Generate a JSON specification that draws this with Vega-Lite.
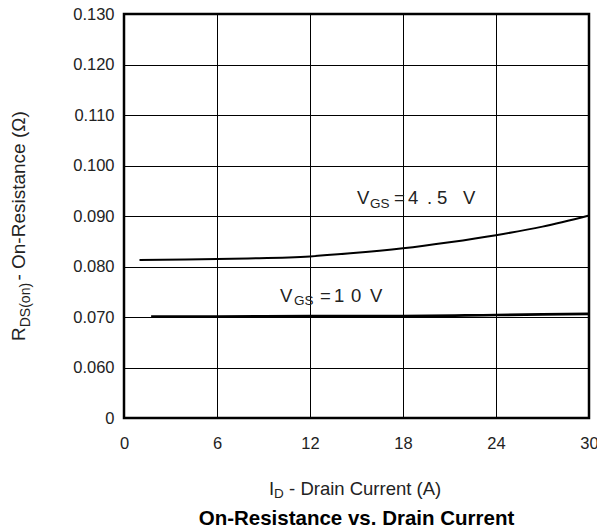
{
  "$schema": "https://vega.github.io/schema/vega-lite/v6.json",
  "autosize": "none",
  "padding": {"left": 124, "top": 14, "right": 8, "bottom": 111},
  "width": 465,
  "height": 404,
  "background": "white",
  "config": {
    "font": "Liberation Sans",
    "view": {"stroke": "black", "strokeWidth": 2.5}
  },
  "datasets": {
    "curves": [
      {"I": 1.0, "R": 0.0813, "series": "4.5 V"},
      {"I": 4.0, "R": 0.0814, "series": "4.5 V"},
      {"I": 8.0, "R": 0.0816, "series": "4.5 V"},
      {"I": 12.0, "R": 0.0820, "series": "4.5 V"},
      {"I": 14.6, "R": 0.0826, "series": "4.5 V"},
      {"I": 18.0, "R": 0.0836, "series": "4.5 V"},
      {"I": 21.0, "R": 0.0848, "series": "4.5 V"},
      {"I": 24.0, "R": 0.0862, "series": "4.5 V"},
      {"I": 27.0, "R": 0.0879, "series": "4.5 V"},
      {"I": 30.0, "R": 0.0901, "series": "4.5 V"},
      {"I": 1.75, "R": 0.0701, "series": "10 V"},
      {"I": 6.0, "R": 0.0701, "series": "10 V"},
      {"I": 12.0, "R": 0.0702, "series": "10 V"},
      {"I": 18.0, "R": 0.0702, "series": "10 V"},
      {"I": 24.0, "R": 0.0704, "series": "10 V"},
      {"I": 30.0, "R": 0.0706, "series": "10 V"}
    ],
    "notes": [
      {"x": 15.03, "y": 0.09228, "text": "V", "role": "main"},
      {"x": 15.87, "y": 0.09158, "text": "GS", "role": "sub"},
      {"x": 17.42, "y": 0.09228, "text": "=", "role": "main"},
      {"x": 18.32, "y": 0.09228, "text": "4", "role": "main"},
      {"x": 19.55, "y": 0.09228, "text": ".", "role": "main"},
      {"x": 20.19, "y": 0.09228, "text": "5", "role": "main"},
      {"x": 21.87, "y": 0.09228, "text": "V", "role": "main"},
      {"x": 10.06, "y": 0.07303, "text": "V", "role": "main"},
      {"x": 10.97, "y": 0.07238, "text": "GS", "role": "sub"},
      {"x": 12.65, "y": 0.07303, "text": "=", "role": "main"},
      {"x": 13.55, "y": 0.07303, "text": "1", "role": "main"},
      {"x": 14.65, "y": 0.07303, "text": "0", "role": "main"},
      {"x": 15.87, "y": 0.07303, "text": "V", "role": "main"},
      {"x": 9.35, "y": 0.03475, "text": "I", "role": "main"},
      {"x": 9.68, "y": 0.03416, "text": "D", "role": "sub"},
      {"x": 10.65, "y": 0.03475, "text": "- Drain Current (A)", "role": "main"},
      {"x": 15.0, "y": 0.02882, "text": "On-Resistance vs. Drain Current", "role": "title"},
      {"x": -6.38, "y": 0.06525, "text": "R", "role": "ymain"},
      {"x": -6.06, "y": 0.06797, "text": "DS(on)", "role": "ysub"},
      {"x": -6.38, "y": 0.07721, "text": "- On-Resistance (Ω)", "role": "ymain"}
    ]
  },
  "encoding": {
    "x": {
      "field": "I", "type": "quantitative",
      "scale": {"domain": [0, 30], "nice": false, "zero": false},
      "axis": {
        "title": null, "values": [0, 6, 12, 18, 24, 30],
        "domain": false, "ticks": false,
        "grid": true, "gridColor": "black", "gridOpacity": 1, "gridWidth": 1,
        "labelFontSize": 16.5, "labelColor": "#222", "labelPadding": 17,
        "labelFlush": false, "labelOverlap": false, "labelBound": false
      }
    },
    "y": {
      "field": "R", "type": "quantitative",
      "scale": {"domain": [0.05, 0.13], "nice": false, "zero": false},
      "axis": {
        "title": null, "values": [0.05, 0.06, 0.07, 0.08, 0.09, 0.1, 0.11, 0.12, 0.13],
        "labelExpr": "datum.value < 0.055 ? '0' : format(datum.value, '.3f')",
        "domain": false, "ticks": false,
        "grid": true, "gridColor": "black", "gridOpacity": 1, "gridWidth": 1,
        "labelFontSize": 16.5, "labelColor": "#222", "labelPadding": 10,
        "labelFlush": false, "labelOverlap": false, "labelBound": false
      }
    }
  },
  "layer": [
    {
      "data": {"name": "curves"},
      "transform": [{"filter": "datum.series === '4.5 V'"}],
      "mark": {"type": "line", "color": "black", "strokeWidth": 2, "interpolate": "monotone"}
    },
    {
      "data": {"name": "curves"},
      "transform": [{"filter": "datum.series === '10 V'"}],
      "mark": {"type": "line", "color": "black", "strokeWidth": 2.7, "interpolate": "monotone"}
    },
    {
      "data": {"name": "notes"},
      "transform": [{"filter": "datum.role === 'main'"}],
      "mark": {"type": "text", "align": "left", "baseline": "alphabetic", "fontSize": 18.5, "color": "#222"},
      "encoding": {
        "x": {"field": "x", "type": "quantitative"},
        "y": {"field": "y", "type": "quantitative"},
        "text": {"field": "text"}
      }
    },
    {
      "data": {"name": "notes"},
      "transform": [{"filter": "datum.role === 'sub'"}],
      "mark": {"type": "text", "align": "left", "baseline": "alphabetic", "fontSize": 13.5, "color": "#222"},
      "encoding": {
        "x": {"field": "x", "type": "quantitative"},
        "y": {"field": "y", "type": "quantitative"},
        "text": {"field": "text"}
      }
    },
    {
      "data": {"name": "notes"},
      "transform": [{"filter": "datum.role === 'title'"}],
      "mark": {"type": "text", "align": "center", "baseline": "alphabetic", "fontSize": 20.5, "fontWeight": "bold", "color": "black"},
      "encoding": {
        "x": {"field": "x", "type": "quantitative"},
        "y": {"field": "y", "type": "quantitative"},
        "text": {"field": "text"}
      }
    },
    {
      "data": {"name": "notes"},
      "transform": [{"filter": "datum.role === 'ymain'"}],
      "mark": {"type": "text", "align": "left", "baseline": "alphabetic", "angle": 270, "fontSize": 19, "color": "#222"},
      "encoding": {
        "x": {"field": "x", "type": "quantitative"},
        "y": {"field": "y", "type": "quantitative"},
        "text": {"field": "text"}
      }
    },
    {
      "data": {"name": "notes"},
      "transform": [{"filter": "datum.role === 'ysub'"}],
      "mark": {"type": "text", "align": "left", "baseline": "alphabetic", "angle": 270, "fontSize": 14, "color": "#222"},
      "encoding": {
        "x": {"field": "x", "type": "quantitative"},
        "y": {"field": "y", "type": "quantitative"},
        "text": {"field": "text"}
      }
    }
  ]
}
